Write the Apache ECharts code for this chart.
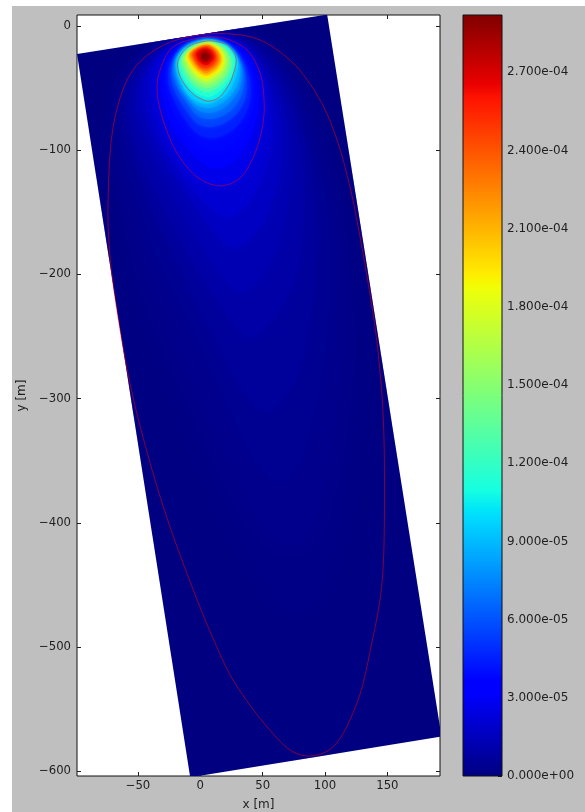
<!DOCTYPE html>
<html><head><meta charset="utf-8">
<style>html,body{margin:0;padding:0;background:#fff;width:585px;height:812px;overflow:hidden}
#c{position:absolute;left:12px;top:6px;width:573px;height:806px}</style>
<script src="https://cdn.jsdelivr.net/npm/echarts@6/dist/echarts.min.js"></script>
</head><body><div id="c"></div>
<script>
const xTicks=[-50,0,50,100,150];
const yTicks=[0,-100,-200,-300,-400,-500,-600];
const colorbarTicks=[0,3e-5,6e-5,9e-5,1.2e-4,1.5e-4,1.8e-4,2.1e-4,2.4e-4,2.7e-4];
const xRange=[-98.9,192.2];
const yRange=[-603.9,8.86];
const vMax=2.92e-4;
const fieldCorners=[[-98.9,-22.5],[101.7,9.2],[193.4,-572],[-8.1,-605]];
// Footprint levels (units of 1e-5) and the iso-line read for each, in metres
const bandLevels=[0.1,0.2,0.32,0.45,0.7,1.0,1.3,1.7,2.1,2.7,3.2,3.8,4.5,5.5,6.5,7.5,8.5,9.5,10.5,11.5,13,14.6,16,17.5,19,20.5,22,23.5,25,26.5,27.5,28.5,29];
const ringOuter=[[23.8,-6.4],[47.9,-11.3],[74.3,-29.8],[96,-59.6],[108.8,-89.3],[120,-129.6],[133.7,-201.9],[141.7,-255],[146.5,-311.5],[147.7,-373.5],[146.5,-437.9],[143.7,-464.5],[138.5,-491.9],[125.7,-545],[106.4,-580.4],[89.6,-587.7],[74.3,-584.4],[53.5,-564.3],[26.2,-526.5],[11.8,-496.7],[-2.6,-462],[-24.3,-403.3],[-38.7,-357.4],[-54,-298.7],[-64.4,-244.7],[-72.4,-186],[-74,-140],[-68.4,-73.3],[-54,-35.4],[-32.3,-16.9],[-5.9,-8]];
const ringMiddle=[[5.4,-8.9],[21.4,-10.5],[37.5,-19.3],[47.9,-37.8],[51.1,-59.6],[50.3,-78.1],[43.9,-102.2],[31.8,-122.4],[15.8,-128.8],[-2.6,-121.6],[-18.7,-102.2],[-29.9,-75.7],[-34.7,-51.5],[-32.3,-35.4],[-21.9,-16.9]];
const ringInner=[[5.4,-12.1],[14.2,-12.9],[22.2,-16.1],[28.6,-25.8],[26.2,-39.4],[22.2,-48.3],[14.2,-58],[6.2,-60.4],[-1.8,-57.4],[-8.3,-52.3],[-16.3,-40.3],[-17.9,-28.2],[-9.9,-16.9]];
const bandRings=[
ringOuter,
[[20.2,-6.8],[49.9,-13.7],[72.4,-33.8],[90,-63.6],[108.4,-123.9],[120.1,-196.4],[124.9,-268.9],[121.7,-341.3],[108,-417.8],[92.8,-462],[77.6,-471.7],[55.9,-454],[27.8,-405.7],[-0.2,-341.3],[-24.3,-276.9],[-48.4,-212.5],[-64.4,-148.1],[-70,-99.8],[-64.4,-59.6],[-48.4,-29],[-28.3,-15.3],[-4.2,-8]],
[[18.2,-7],[47.9,-14.5],[69.6,-35.4],[86.4,-67.6],[102.4,-123.9],[112,-188.4],[113.6,-256.8],[107.2,-325.2],[94.4,-389.6],[83.2,-413.8],[70.3,-419.4],[51,-404],[23.8,-353.4],[-2.7,-294.8],[-28.3,-235.1],[-50,-174.7],[-66.8,-115.9],[-67.6,-75.7],[-56.4,-39.4],[-38.7,-20.9],[-26.7,-14.5],[-3.4,-8]],
[[17.5,-7.2],[46.3,-15.3],[67.9,-37],[84,-71.6],[97.6,-123.9],[104,-180.3],[102.4,-244.7],[92,-309.1],[78.3,-353.4],[63.9,-367],[46.2,-353.4],[19.8,-301.2],[-4.2,-248.9],[-32.3,-192.4],[-52.4,-136],[-64.4,-83.7],[-60.4,-47.5],[-44.3,-25.8],[-24.3,-13.7],[-2.7,-8]],
[[15.8,-7.6],[43.9,-16.1],[63.9,-38.6],[80,-75.7],[90.4,-123.9],[93.6,-172.3],[88,-236.7],[74.3,-289],[51.9,-310.7],[31.8,-289],[3.8,-236.7],[-24.3,-180.3],[-44.3,-132],[-58,-87.7],[-60.4,-55.5],[-48.4,-31.4],[-25.9,-15.3],[-1.8,-8.9]],
[[14.2,-8],[39.9,-16.9],[59.9,-39.4],[74.3,-75.7],[82.4,-115.9],[81.6,-172.3],[67.9,-220.6],[39.9,-250.3],[19.8,-228.6],[-4.2,-192.4],[-28.3,-148.1],[-46.7,-107.9],[-56.4,-67.6],[-48.4,-37],[-25.9,-16.1],[-1.8,-9.3]],
[[12.6,-8.5],[35.8,-17.7],[55.9,-39.4],[68.7,-71.6],[72.7,-111.9],[65.5,-164.2],[49.5,-200.4],[31.8,-214.1],[11.8,-192.4],[-8.3,-160.2],[-30.7,-120],[-46,-87.7],[-51.6,-59.6],[-44.3,-35.4],[-24.3,-16.1],[-1.8,-9.7]],
[[11,-8.9],[31.8,-18.5],[50.3,-39.4],[62.3,-71.6],[63.9,-107.9],[54.3,-148.1],[39.9,-170.6],[25.4,-177.9],[7.8,-160.2],[-12.3,-132],[-32.3,-99.8],[-43.6,-71.6],[-46,-51.5],[-40.3,-32.2],[-22.7,-16.1],[-1.8,-9.7]],
[[7.8,-8.9],[27.8,-15.3],[43.9,-31.4],[55.1,-63.6],[56.7,-91.8],[46.3,-126.4],[33.4,-146.5],[20.6,-153],[3.8,-140.2],[-16.3,-116.1],[-32.3,-87.9],[-38.7,-63.6],[-40.3,-43.5],[-33.9,-27.4],[-20.3,-16.1],[-4.2,-10.1]],
ringMiddle,
[[5.4,-9.7],[19.8,-12.1],[34.3,-20.9],[43.9,-39.4],[46.3,-66],[39.9,-90.2],[27.8,-107.9],[14.2,-114.3],[2.2,-110.3],[-13.9,-94.2],[-25.9,-74.1],[-30.7,-51.5],[-29.1,-33.8],[-19.5,-19.3],[-8.3,-12.1]],
[[5.4,-10.1],[19,-12.9],[32.7,-21.7],[41.5,-39.4],[43.1,-63.6],[35.8,-83.7],[23.8,-96.6],[11,-100.6],[-0.2,-97.4],[-13.9,-83.7],[-23.5,-66],[-28.3,-47.5],[-26.7,-31.4],[-17.9,-19.3],[-7.5,-12.9]],
[[5.4,-10.5],[18.2,-13.3],[31.1,-22.5],[39.1,-39.4],[39.9,-59.6],[33.4,-75.7],[22.2,-86.1],[9.4,-90.2],[-1.8,-87],[-13.1,-74.1],[-21.1,-59.6],[-25.9,-45.1],[-24.3,-30.6],[-16.3,-19.3],[-6.7,-13.3]],
[[5.4,-10.9],[17.4,-13.7],[28.6,-22.5],[35.9,-37],[36.7,-55.6],[30.2,-69.2],[20.6,-77.3],[8.6,-81.3],[-1.8,-78.9],[-11.5,-67.6],[-19.5,-54.7],[-23.5,-41.9],[-21.9,-29],[-14.7,-19.3],[-5.9,-13.7]],
[[5.4,-11.3],[16.6,-13.7],[27,-22.5],[34.2,-35.4],[34.2,-51.5],[27.8,-64.4],[19,-71.6],[7.8,-74.9],[-1.8,-72.5],[-10.7,-62],[-17.9,-50.7],[-21.9,-38.6],[-20.3,-28.2],[-13.9,-19.3],[-5.1,-13.7]],
[[5.4,-11.3],[15.8,-13.7],[25.4,-20.9],[32.6,-33.8],[31.8,-49.1],[25.4,-59.6],[17.4,-66.8],[7,-70],[-1.8,-67.6],[-10.7,-57.9],[-17.1,-47.5],[-20.3,-37],[-19.5,-27.4],[-13.1,-18.5],[-4.2,-13.7]],
[[5.4,-11.7],[15,-13.7],[24.6,-19.3],[31,-31.4],[30.2,-45.9],[23,-57.2],[15.8,-62.8],[7,-66],[-2.7,-63.6],[-10.7,-54.7],[-16.3,-45.1],[-19.5,-35.4],[-18.7,-25.8],[-12.3,-17.7],[-3.4,-13.7]],
[[5.4,-11.7],[14.7,-13.3],[23,-17.7],[29.8,-27.4],[28.2,-41.9],[20.6,-55.6],[13.4,-59.6],[6.2,-62.8],[-3.4,-60.4],[-11.5,-53.1],[-16.3,-42.7],[-18.7,-32.2],[-17.9,-25],[-11.5,-17.3],[-2.7,-13.3]],
ringInner,
[[5.4,-12.5],[13.4,-13.7],[21.4,-17.7],[27.4,-27.4],[24.6,-41],[17.4,-50.7],[6.2,-57.2],[-6.7,-50.7],[-14.7,-39.4],[-16.7,-28.2],[-9.1,-17.7]],
[[5.4,-12.9],[13.4,-14.5],[20.6,-18.5],[25.4,-27.4],[23,-39.4],[15.8,-48.3],[5.4,-53.1],[-5.9,-47.5],[-13.1,-37.8],[-15.5,-27.4],[-8.3,-17.7]],
[[5.4,-13.3],[12.6,-14.5],[19.8,-19.3],[23.8,-27.4],[21.4,-37.8],[14.2,-45.9],[5.4,-49.9],[-4.2,-45.9],[-11.5,-36.2],[-14.7,-26.6],[-7.5,-18.1]],
[[5.4,-13.7],[12.6,-15.3],[18.2,-19.3],[21.4,-27.4],[19,-37],[12.6,-43.5],[4.6,-46.7],[-3.4,-42.7],[-9.9,-34.6],[-12.7,-25.8],[-6.7,-18.5]],
[[5.4,-14.1],[11.8,-15.7],[16.6,-19.3],[19.8,-27.4],[17.4,-35.4],[11,-41],[4.6,-44.3],[-2.7,-40.3],[-8.3,-33],[-11.5,-24.9],[-5.9,-18.9]],
[[5.4,-14.5],[11,-16.1],[15.8,-20.1],[18.2,-27.4],[15.8,-34.6],[10.2,-39.4],[4.6,-41.9],[-1.8,-38.6],[-7.5,-32.2],[-10.7,-24.2],[-5.1,-18.5]],
[[5.4,-14.9],[11,-16.9],[15,-20.9],[17,-27.4],[14.2,-33.8],[9.4,-37.8],[4.6,-39.8],[-1,-37],[-6.7,-30.6],[-9.5,-23.3],[-4.2,-18.5]],
[[5.4,-15.3],[10.2,-17.3],[14.2,-20.9],[15.8,-26.6],[13.4,-32.2],[8.6,-36.2],[4.6,-37.8],[-0.2,-35.4],[-5.1,-29.8],[-8.3,-22.5],[-3.4,-18.1]],
[[5.4,-16.1],[9.4,-17.7],[12.6,-21.7],[14.2,-26.6],[11.8,-31.4],[7.8,-34.6],[4.6,-35.8],[-0.2,-33.8],[-4.2,-29],[-6.7,-22.5],[-2.7,-18.5]],
[[4.6,-16.9],[8.6,-18.5],[11.8,-21.7],[12.6,-26.6],[10.2,-30.6],[7,-33],[3.8,-33.8],[-0.2,-32.2],[-3.4,-28.2],[-5.4,-22.5],[-1.8,-18.9]],
[[4.6,-18.1],[7.8,-19.3],[10.2,-22.5],[11,-25.8],[8.6,-29],[6.2,-31],[3.8,-31.4],[0.6,-29.8],[-2.2,-26.6],[-3.4,-22.5],[-0.6,-19.3]],
[[3.8,-19.3],[7,-20.9],[8.6,-23.3],[9,-25.8],[7,-28.2],[4.6,-29.4],[2.2,-29],[-0.2,-26.6],[-1.4,-23.3],[0.6,-20.5]],
[[3.8,-20.9],[6.2,-22.1],[7.8,-24.2],[7,-26.6],[4.6,-28.2],[2.2,-27.4],[0.6,-25],[1.4,-22.5]],
[[3.4,-22.3],[5.4,-23.1],[6.2,-24.8],[4.6,-26.4],[2.6,-26],[1.4,-24]]
];
const isoLines=[ringOuter,ringMiddle,ringInner];

// matplotlib "jet" channel breakpoints
const jetR=[[0,0],[.35,0],[.66,1],[.89,1],[1,.5]];
const jetG=[[0,0],[.125,0],[.375,1],[.64,1],[.91,0],[1,0]];
const jetB=[[0,.5],[.11,1],[.34,1],[.65,0],[1,0]];
const jetBreaks=[0,.11,.125,.34,.35,.375,.64,.65,.66,.89,.91,1];
function chan(tbl,t){for(let i=1;i<tbl.length;i++){if(t<=tbl[i][0]){const a=tbl[i-1],b=tbl[i];return a[1]+(b[1]-a[1])*(t-a[0])/(b[0]-a[0]);}}return tbl[tbl.length-1][1];}
function jet(t){t=Math.max(0,Math.min(1,t));return 'rgb('+[jetR,jetG,jetB].map(c=>Math.round(chan(c,t)*255)).join(',')+')';}
const ink='#1f1f1f';
const font='"DejaVu Sans"';
function sciLabel(v){const s=Number(v).toExponential(3).split('e');const n=parseInt(s[1],10);return s[0]+'e'+(n<0?'-':'+')+String(Math.abs(n)).padStart(2,'0');}
function minus(v){return String(v).replace('-','\u2212');}

const chart=echarts.init(document.getElementById('c'),null,{renderer:'canvas'});
// Closed centripetal Catmull-Rom curve through the projected iso-line vertices, for drawing only
function polyOf(api,pts,curved){
  const q=pts.map(p=>api.coord(p));
  if(!curved)return q;
  const n=q.length,out=[],steps=10;
  const knot=(a,b)=>Math.max(1e-3,Math.pow(Math.hypot(b[0]-a[0],b[1]-a[1]),0.5));
  const mix=(a,b,ta,tb,t)=>[0,1].map(k=>(a[k]*(tb-t)+b[k]*(t-ta))/(tb-ta));
  for(let i=0;i<n;i++){
    const p0=q[(i-1+n)%n],p1=q[i],p2=q[(i+1)%n],p3=q[(i+2)%n];
    const t0=0,t1=t0+knot(p0,p1),t2=t1+knot(p1,p2),t3=t2+knot(p2,p3);
    for(let s=0;s<steps;s++){
      const t=t1+(t2-t1)*s/steps;
      const a1=mix(p0,p1,t0,t1,t),a2=mix(p1,p2,t1,t2,t),a3=mix(p2,p3,t2,t3,t);
      const b1=mix(a1,a2,t0,t2,t),b2=mix(a2,a3,t1,t3,t);
      out.push(mix(b1,b2,t1,t2,t));
    }
  }
  return out;
}
function blurFor(v){return v<=0.45?22:v<=1.3?14:v<=2.7?8:v<=9.5?4:3;}
const tickStyle={inside:true,length:4,lineStyle:{color:ink}};
const mirrorX={gridIndex:0,type:'value',position:'top',min:xRange[0],max:xRange[1],axisLine:{show:false,onZero:false},splitLine:{show:false},
  axisTick:{...tickStyle,customValues:xTicks},axisLabel:{show:false}};
const mirrorY={gridIndex:0,type:'value',position:'right',min:yRange[0],max:yRange[1],axisLine:{show:false,onZero:false},splitLine:{show:false},
  axisTick:{...tickStyle,customValues:yTicks},axisLabel:{show:false}};
chart.setOption({
  animation:false,
  backgroundColor:'#bfbfbf',
  grid:[
    {left:65,top:9,width:363,height:761,show:true,backgroundColor:'#fff',borderColor:'#111',borderWidth:1,containLabel:false,outerBoundsMode:'none'},
    {left:451,top:9,width:39,height:761,show:false,containLabel:false,outerBoundsMode:'none'}
  ],
  xAxis:[
    {gridIndex:0,type:'value',position:'bottom',min:xRange[0],max:xRange[1],name:'x [m]',nameLocation:'middle',nameGap:23,
     nameTextStyle:{color:ink,fontFamily:font,fontSize:12},axisLine:{show:false,onZero:false},splitLine:{show:false},
     axisTick:{...tickStyle,customValues:xTicks},
     axisLabel:{margin:4,color:ink,fontFamily:font,fontSize:11.7,customValues:xTicks,formatter:minus}},
    mirrorX,
    {gridIndex:1,type:'value',min:0,max:1,show:false,axisLine:{onZero:false}}
  ],
  yAxis:[
    {gridIndex:0,type:'value',position:'left',min:yRange[0],max:yRange[1],name:'y [m]',nameLocation:'middle',nameGap:44,
     nameTextStyle:{color:ink,fontFamily:font,fontSize:12},axisLine:{show:false,onZero:false},splitLine:{show:false},
     axisTick:{...tickStyle,customValues:yTicks},
     axisLabel:{margin:6,color:ink,fontFamily:font,fontSize:11.7,customValues:yTicks,formatter:minus}},
    mirrorY,
    {gridIndex:1,type:'value',position:'right',min:0,max:vMax,splitLine:{show:false},
     axisLine:{show:false,onZero:false},
     axisTick:{...tickStyle,customValues:colorbarTicks},
     axisLabel:{margin:5,color:ink,fontFamily:font,fontSize:12,customValues:colorbarTicks,formatter:sciLabel}}
  ],
  series:[
    {type:'custom',coordinateSystem:'cartesian2d',xAxisIndex:0,yAxisIndex:0,clip:true,silent:true,z:2,
     data:[[0,0]],
     renderItem:(p,api)=>({type:'polygon',shape:{points:polyOf(api,fieldCorners,false)},style:{fill:jet(0)}})},
    {type:'custom',coordinateSystem:'cartesian2d',xAxisIndex:0,yAxisIndex:0,clip:true,silent:true,z:3,
     data:bandLevels.map((v,i)=>[i,v]),
     renderItem:(p,api)=>{
       const i=p.dataIndex,v=bandLevels[i],col=jet(v*1e-5/vMax);
       return {type:'polygon',shape:{points:polyOf(api,bandRings[i],true)},
         clipPath:{type:'polygon',shape:{points:polyOf(api,fieldCorners,false)}},
         style:{fill:col,shadowBlur:blurFor(v),shadowColor:col}};
     }},
    {type:'custom',coordinateSystem:'cartesian2d',xAxisIndex:0,yAxisIndex:0,clip:true,silent:true,z:4,
     data:isoLines.map((r,i)=>[i,0]),
     renderItem:(p,api)=>({type:'polygon',shape:{points:polyOf(api,isoLines[p.dataIndex],true)},
        style:{fill:'none',stroke:'rgba(255,0,0,0.5)',lineWidth:1}})},
    {type:'custom',coordinateSystem:'cartesian2d',xAxisIndex:2,yAxisIndex:2,silent:true,z:2,
     data:[[0,0]],
     renderItem:(p,api)=>{
       const a=api.coord([0,vMax]),b=api.coord([1,0]);
       return {type:'rect',shape:{x:a[0],y:a[1],width:b[0]-a[0],height:b[1]-a[1]},
         style:{stroke:'#111',lineWidth:1,fill:new echarts.graphic.LinearGradient(0,1,0,0,jetBreaks.map(t=>({offset:t,color:jet(t)})))}};
     }}
  ]
});
</script></body></html>
